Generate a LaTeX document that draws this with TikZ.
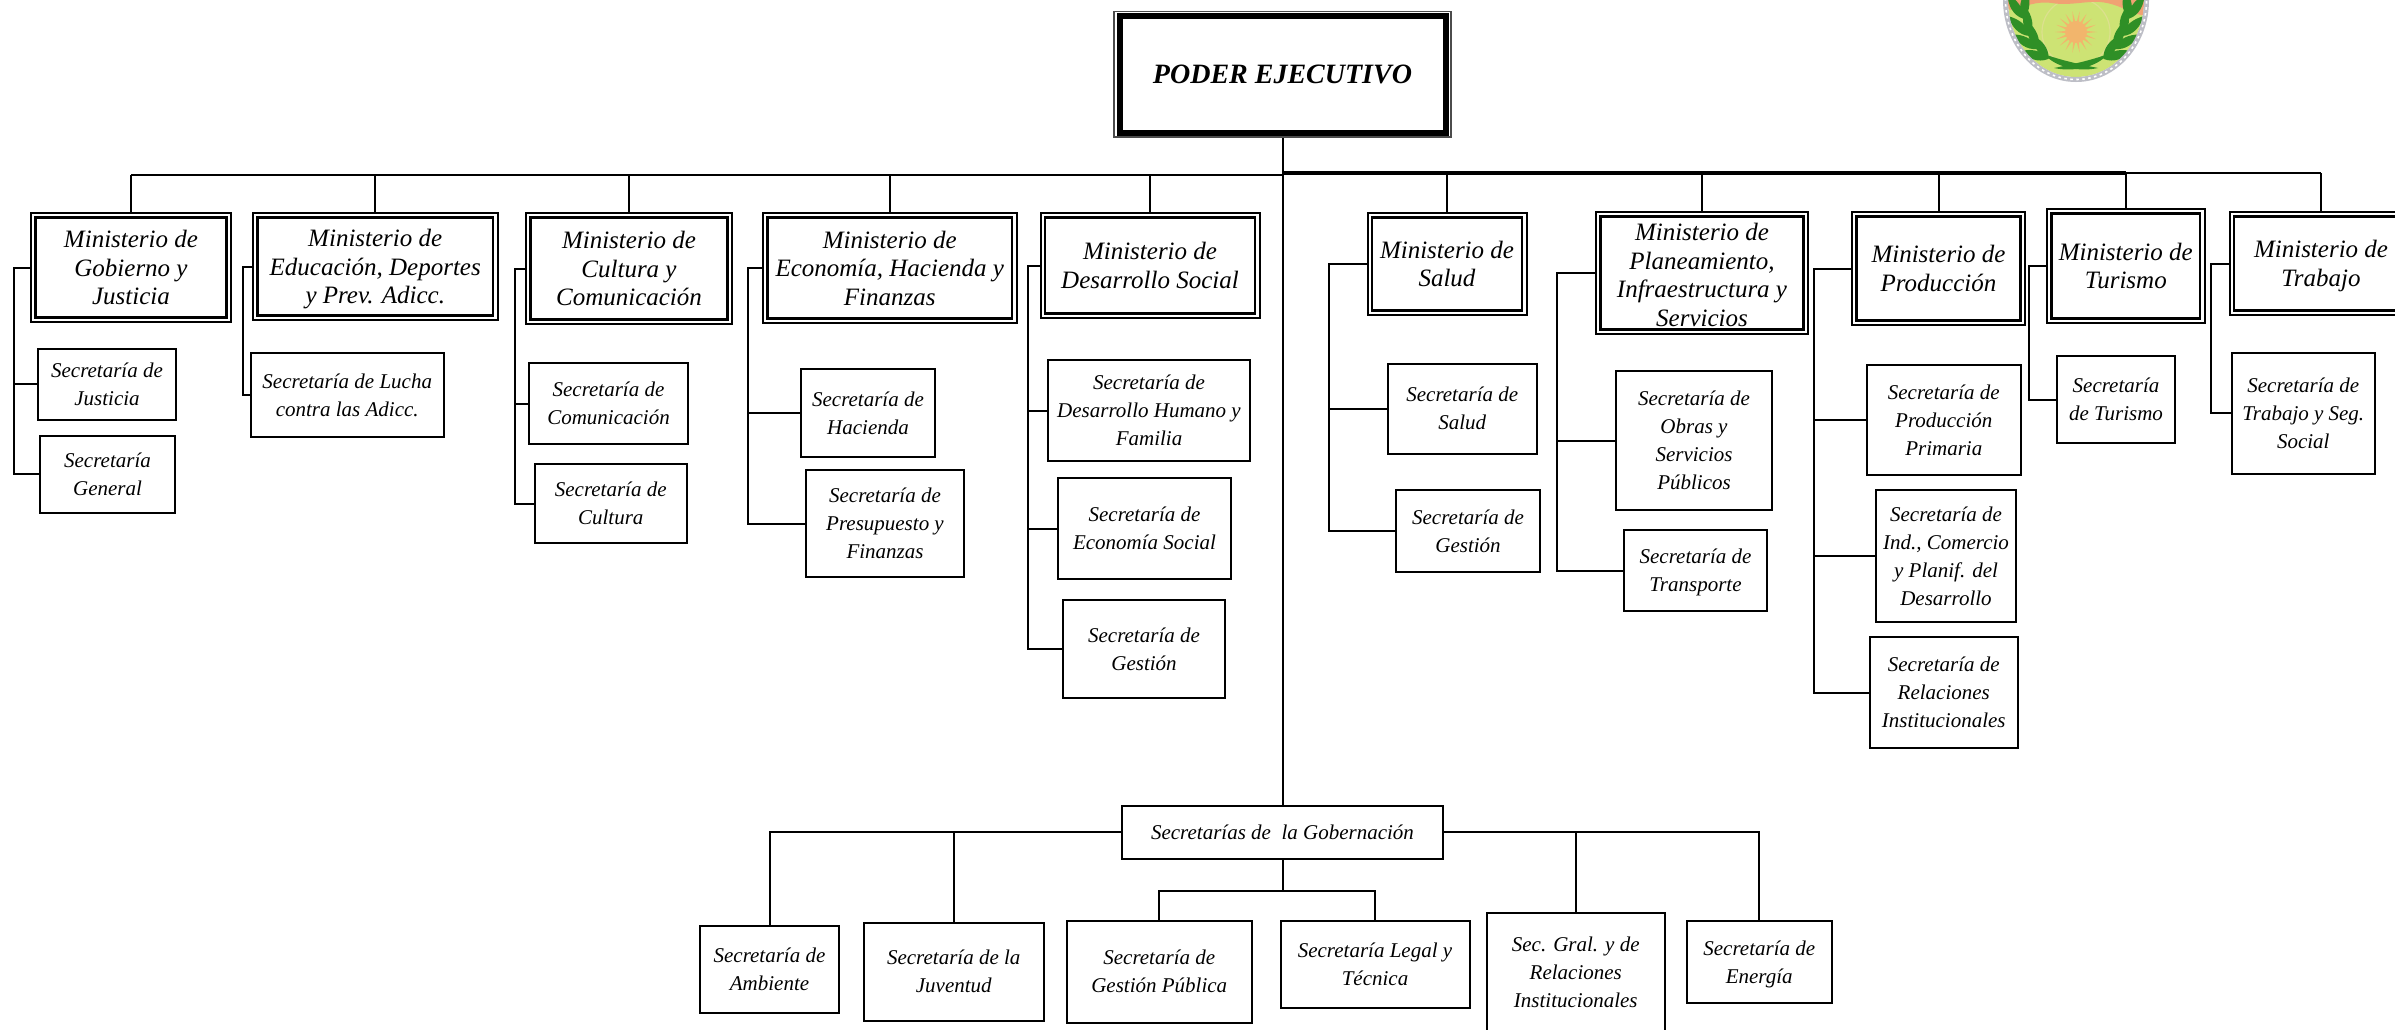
\documentclass[tikz,border=0pt]{standalone}
\usepackage{fontspec}
\setmainfont{Liberation Serif}
\definecolor{crestgreen}{HTML}{CDE374}
\definecolor{crestorange}{HTML}{F0A273}
\definecolor{crestleaf}{HTML}{2F8F26}
\definecolor{crestsun}{HTML}{F2B56C}
\definecolor{crestrope}{HTML}{BDBEC6}
\definecolor{crestring}{HTML}{DCE08E}
\tikzset{
  secbox/.style={draw=black,fill=white,line width=2pt,inner sep=0pt,align=center,
    font=\fontsize{21}{28}\selectfont\itshape},
  minbox/.style={draw=black,fill=white,line width=2pt,inner sep=0pt,align=center,
    font=\fontsize{25}{28.5}\selectfont\itshape},
  powerbox/.style={draw=black!70,fill=white,line width=1.5pt,inner sep=0pt,align=center,
    font=\fontsize{28}{32}\selectfont\bfseries\itshape},
  inframe/.style={draw=black,line width=2.6pt},
  powerframe/.style={draw=black,line width=6pt},
  conn/.style={draw=black,line width=2pt},
  busleft/.style={draw=black,line width=2.4pt},
  busright/.style={draw=black,line width=3.4pt},
  leaf/.style={fill=crestleaf}
}
\newcommand{\bx}[7]{%
  \pgfmathsetmacro{\bxcx}{(#3+#5)/2}%
  \pgfmathsetmacro{\bxcy}{(#4+#6)/2}%
  \pgfmathsetmacro{\bxw}{#5-#3}%
  \pgfmathsetmacro{\bxh}{#6-#4}%
  \node[#1,minimum width=\bxw pt,minimum height=\bxh pt] (#2) at (\bxcx,\bxcy) {#7};%
}
\newcommand{\mn}[6]{%
  \bx{minbox}{#1}{#2}{#3}{#4}{#5}{#6}%
  \draw[inframe] ([shift={(5.5,5.5)}]#1.north west) rectangle ([shift={(-5.5,-5.5)}]#1.south east);%
}
\newcommand{\leafat}[3]{%
  \fill[leaf,shift={(#1,#2)},rotate=#3] (0,0) .. controls (9,-7) and (20,-5) .. (29,0) .. controls (20,5) and (9,7) .. (0,0);%
}
\begin{document}
\begin{tikzpicture}[x=1pt,y=-1pt]
\path[use as bounding box,clip] (0,0) rectangle (2395,1029);
\fill[white] (0,0) rectangle (2395,1029);

% crest
\begin{scope}
  \clip (2076,0) ellipse[x radius=68pt,y radius=77pt];
  \fill[crestgreen] (2000,-5) rectangle (2150,90);
  \draw[crestring,line width=1.2pt] (2076,32) circle[radius=34pt];
  \fill[crestorange] (2000,-2) -- (2150,-2) -- (2150,16) .. controls (2132,16) and (2122,4) .. (2100,2)
     .. controls (2085,1) and (2068,6) .. (2052,3) .. controls (2035,1) and (2028,6) .. (2010,10) -- cycle;
\end{scope}
\foreach \a in {0,20,...,340}{
  \fill[crestsun,shift={(2076,32)}] (\a+8:9) -- (\a:21) -- (\a-8:9) -- cycle;
}
\fill[crestsun] (2076,32) circle[radius=11pt];
\foreach \t in {0,16,32,46,60}{
  \pgfmathsetmacro{\lx}{55*cos(\t)}
  \pgfmathsetmacro{\ly}{68*sin(\t)}
  \pgfmathsetmacro{\la}{atan2(68*cos(\t),-55*sin(\t))}
  \pgfmathsetmacro{\lxa}{2076-\lx}
  \pgfmathsetmacro{\lxb}{2076+\lx}
  \pgfmathsetmacro{\laa}{\la+20}
  \pgfmathsetmacro{\lab}{\la-20}
  \pgfmathsetmacro{\lba}{180-\la-20}
  \pgfmathsetmacro{\lbb}{180-\la+20}
  \leafat{\lxa}{\ly}{\laa}
  \leafat{\lxa}{\ly}{\lab}
  \leafat{\lxb}{\ly}{\lba}
  \leafat{\lxb}{\ly}{\lbb}
}
\fill[leaf] (2044,54) .. controls (2060,60) and (2078,64) .. (2098,68) .. controls (2080,72) and (2056,68) .. (2044,54);
\fill[leaf] (2108,54) .. controls (2092,60) and (2074,64) .. (2054,68) .. controls (2072,72) and (2096,68) .. (2108,54);
\draw[crestrope,line width=5pt] (2076,0) ellipse[x radius=70.5pt,y radius=79.5pt];
\draw[white,line width=1.6pt,dash pattern=on 2.5pt off 3.5pt] (2076,0) ellipse[x radius=70.5pt,y radius=79.5pt];

% executive
\bx{powerbox}{pe}{1114}{11.5}{1451}{137}{PODER EJECUTIVO}
\draw[powerframe] ([shift={(6.5,5)}]pe.north west) rectangle ([shift={(-5.5,-5)}]pe.south east);

% ministries
\mn{ma}{31}{213}{231}{322}{Ministerio de\\Gobierno y\\Justicia}
\mn{mb}{253}{213}{497.5}{320}{Ministerio de\\Educación, Deportes\\\smash{y Prev. Adicc.}}
\mn{mc}{526}{213}{732}{324}{Ministerio de\\Cultura y\\Comunicación}
\mn{md}{763}{213}{1016.5}{323}{Ministerio de\\Economía, Hacienda y\\Finanzas}
\mn{me}{1040.5}{213}{1259.5}{318}{Ministerio de\\Desarrollo Social}
\mn{mf}{1367.5}{213}{1526.5}{315}{Ministerio de\\Salud}
\mn{mg}{1596}{212}{1808}{334}{\rule{0pt}{21pt}Ministerio de\\Planeamiento,\\Infraestructura y\\Servicios}
\mn{mh}{1852}{212}{2025}{325}{Ministerio de\\Producción}
\mn{mi}{2047}{209}{2204.5}{323}{Ministerio de\\Turismo}
\mn{mj}{2229.5}{212}{2412.5}{315}{Ministerio de\\\smash{Trabajo}}

% secretaries
\bx{secbox}{sa}{38}{348.5}{176}{420}{Secretaría de\\Justicia}
\bx{secbox}{sb}{40}{435.5}{175}{513}{Secretaría\\General}
\bx{secbox}{sc}{251}{353}{443.5}{437}{Secretaría de Lucha\\contra las Adicc.}
\bx{secbox}{sd}{529}{363}{688}{444}{Secretaría de\\Comunicación}
\bx{secbox}{se}{535}{464}{686.5}{543}{Secretaría de\\Cultura}
\bx{secbox}{sf}{801}{369}{935}{457}{Secretaría de\\Hacienda}
\bx{secbox}{sg}{806}{470}{964}{577}{Secretaría de\\Presupuesto y\\Finanzas}
\bx{secbox}{sh}{1048}{360}{1250}{461}{Secretaría de\\Desarrollo Humano y\\Familia}
\bx{secbox}{si}{1058}{478}{1231}{579}{Secretaría de\\Economía Social}
\bx{secbox}{sj}{1063}{600}{1225}{698}{Secretaría de\\Gestión}
\bx{secbox}{sk}{1388}{363.5}{1536.5}{453.5}{Secretaría de\\Salud}
\bx{secbox}{sl}{1396}{490}{1540}{572}{Secretaría de\\Gestión}
\bx{secbox}{sm}{1616}{371}{1772}{510}{Secretaría de\\Obras y\\Servicios\\Públicos}
\bx{secbox}{sn}{1624}{530}{1767}{611}{Secretaría de\\\smash{Transporte}}
\bx{secbox}{so}{1866.5}{365}{2021}{475}{Secretaría de\\Producción\\Primaria}
\bx{secbox}{sp}{1876}{490}{2016}{622}{Secretaría de\\Ind., Comercio\\y Planif. del\\Desarrollo}
\bx{secbox}{sq}{1869.5}{637}{2018}{748}{Secretaría de\\Relaciones\\Institucionales}
\bx{secbox}{sr}{2057}{356}{2175}{443}{Secretaría\\de Turismo}
\bx{secbox}{ss}{2231.5}{353}{2375}{473.5}{Secretaría de\\Trabajo y Seg.\\Social}

% government secretaries
\bx{secbox}{ga}{1122}{805.5}{1443}{859}{Secretarías de\ \ la Gobernación}
\bx{secbox}{gb}{700}{925.5}{839}{1012.5}{Secretaría de\\Ambiente}
\bx{secbox}{gc}{864}{922.5}{1043.5}{1021}{Secretaría de la\\Juventud}
\bx{secbox}{gd}{1066.5}{921}{1252}{1022.5}{Secretaría de\\Gestión Pública}
\bx{secbox}{ge}{1280.5}{921}{1469.5}{1008}{Secretaría Legal y\\Técnica}
\bx{secbox}{gf}{1487}{913}{1664.5}{1032}{Sec. Gral. y de\\Relaciones\\Institucionales}
\bx{secbox}{gg}{1687}{921}{1831.5}{1002.5}{Secretaría de\\\smash{Energía}}

% free-end coordinates
\coordinate (busl) at (0,175);
\coordinate (busr) at (0,173);
\coordinate (midbus) at (0,890.5);
\coordinate (sta) at (14,0);
\coordinate (stb) at (243,0);
\coordinate (stc) at (515,0);
\coordinate (std) at (748,0);
\coordinate (ste) at (1028,0);
\coordinate (stf) at (1329,0);
\coordinate (stg) at (1557,0);
\coordinate (sth) at (1814,0);
\coordinate (sti) at (2029,0);
\coordinate (stj) at (2211,0);

% top buses
\draw[conn] (pe.south) -- (pe.south |- ga.north);
\draw[busleft] (ma.north |- busl) -- (pe.south |- busl);
\draw[busright] (pe.south |- busr) -- (mi.north |- busr);
\draw[conn] (mi.north |- busr) -- (mj.north |- busr);
\foreach \m in {ma,mb,mc,md,me}{
  \draw[conn] (\m.north) -- (\m.north |- busl);
}
\foreach \m in {mf,mg,mh,mi,mj}{
  \draw[conn] (\m.north) -- (\m.north |- busr);
}

% side stems
\draw[conn] (ma.west) -| (sta |- sb.west) -- (sb.west);
\draw[conn] (sta |- sa.west) -- (sa.west);
\draw[conn] (mb.west) -| (stb |- sc.west) -- (sc.west);
\draw[conn] (mc.west) -| (stc |- se.west) -- (se.west);
\draw[conn] (stc |- sd.west) -- (sd.west);
\draw[conn] (md.west) -| (std |- sg.west) -- (sg.west);
\draw[conn] (std |- sf.west) -- (sf.west);
\draw[conn] (me.west) -| (ste |- sj.west) -- (sj.west);
\draw[conn] (ste |- sh.west) -- (sh.west);
\draw[conn] (ste |- si.west) -- (si.west);
\draw[conn] (mf.west) -| (stf |- sl.west) -- (sl.west);
\draw[conn] (stf |- sk.west) -- (sk.west);
\draw[conn] (mg.west) -| (stg |- sn.west) -- (sn.west);
\draw[conn] (stg |- sm.west) -- (sm.west);
\draw[conn] (mh.west) -| (sth |- sq.west) -- (sq.west);
\draw[conn] (sth |- so.west) -- (so.west);
\draw[conn] (sth |- sp.west) -- (sp.west);
\draw[conn] (mi.west) -| (sti |- sr.west) -- (sr.west);
\draw[conn] (mj.west) -| (stj |- ss.west) -- (ss.west);

% bottom tree
\draw[conn] (ga.west) -| (gb.north);
\draw[conn] (ga.west -| gc.north) -- (gc.north);
\draw[conn] (ga.east) -| (gg.north);
\draw[conn] (ga.east -| gf.north) -- (gf.north);
\draw[conn] (ga.south) -- (ga.south |- midbus);
\draw[conn] (gd.north) -- (gd.north |- midbus) -- (ge.north |- midbus) -- (ge.north);
\end{tikzpicture}
\end{document}
